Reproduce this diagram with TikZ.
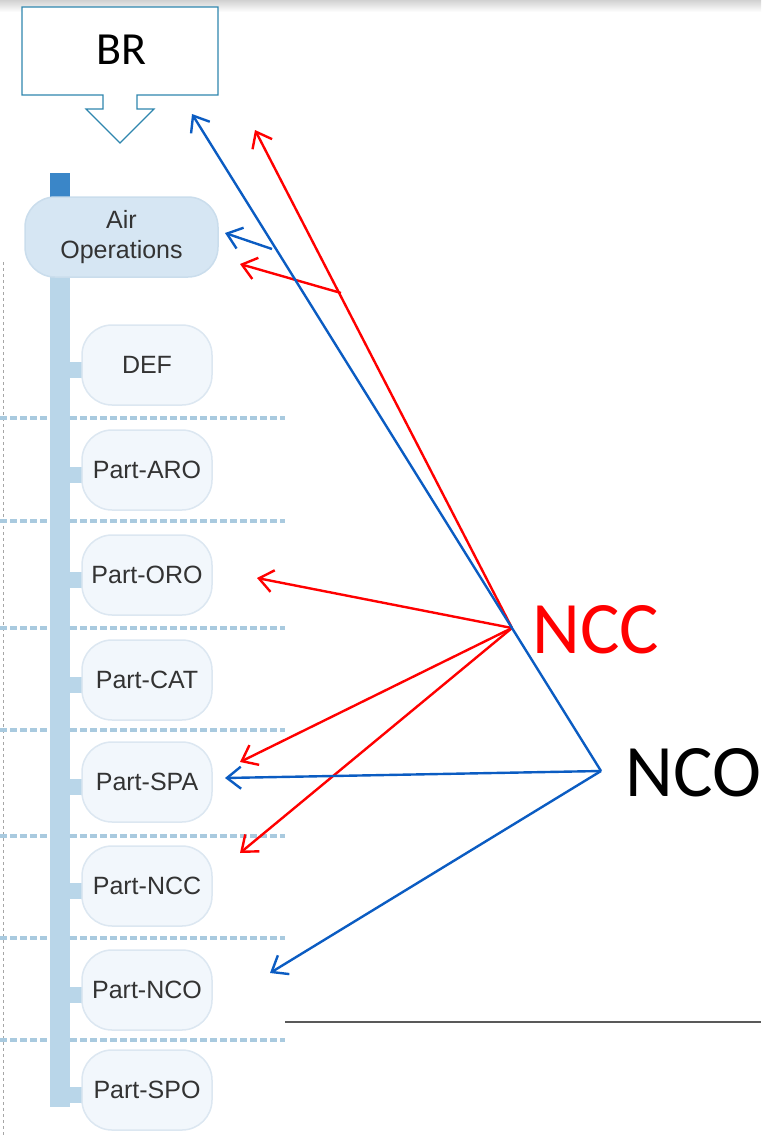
\documentclass[tikz,border=0pt]{standalone}
\usepackage{fontspec}
\setmainfont{Liberation Sans}
\newfontfamily\calibri{Carlito}
\usetikzlibrary{arrows.meta}
\definecolor{barblue}{HTML}{B9D6E9}
\definecolor{topblue}{HTML}{3A86C8}
\definecolor{opsfill}{HTML}{D6E6F3}
\definecolor{opsline}{HTML}{CADDEC}
\definecolor{partfill}{HTML}{F2F7FC}
\definecolor{partline}{HTML}{DCE7F1}
\definecolor{sepblue}{HTML}{A9CADF}
\definecolor{brline}{HTML}{2F86AE}
\definecolor{nccred}{HTML}{FF0000}
\definecolor{ncoblue}{HTML}{0B5CC2}
\definecolor{labelgrey}{HTML}{333333}

\begin{document}
\begin{tikzpicture}[x=1pt,y=-1pt,
	part/.style={draw=partline, line width=1.5pt, fill=partfill, rounded corners=30pt,
		minimum width=130pt, minimum height=80pt, text=labelgrey, font=\fontsize{25}{30}\selectfont},
	redarrow/.style={draw=nccred, line width=2.4pt, -{Straight Barb[length=14pt,width=22pt]}},
	bluearrow/.style={draw=ncoblue, line width=2.4pt, -{Straight Barb[length=14pt,width=22pt]}}]
	\useasboundingbox (0,0) rectangle (761,1135);
	\shade[top color=black!18, bottom color=white] (0,0) rectangle (761,12);

	% BR callout
	\draw[brline, line width=1.2pt, fill=white] (22,7) -- (218,7) -- (218,95) -- (137,95) -- (137,109)
		-- (154,109) -- (120,143) -- (86,109) -- (103,109) -- (103,95) -- (22,95) -- cycle;
	\node[font=\calibri\fontsize{46}{50}\selectfont] (BR) at (121,50) {BR};

	% separators and tree
	\draw[black!35, dashed, line width=0.8pt] (3,262) -- (3,1135);
	\foreach \y in {418,521,628,730,836,938,1040}
		\draw[sepblue, line width=3.5pt, dash pattern=on 7pt off 3pt] (0,\y) -- (285,\y);
	\fill[topblue] (50,173) rectangle (70,197);
	\fill[barblue] (50,277) rectangle (70,1107);
	\foreach \y in {365,470,575,680,782,886,990,1090}
		\fill[barblue] (70,\y-3) rectangle (84,\y+13);

	\node[draw=opsline, line width=1.5pt, fill=opsfill, rounded corners=30pt, minimum width=193pt,
		minimum height=80pt, align=center, text=labelgrey, font=\fontsize{25}{30}\selectfont]
		(OPS) at (121.5,237) {Air\\Operations};%
	\node[part] (DEF) at (147,365) {DEF};%
	\node[part] (ARO) at (147,470) {Part-ARO};%
	\node[part] (ORO) at (147,575) {Part-ORO};%
	\node[part] (CAT) at (147,680) {Part-CAT};%
	\node[part] (SPA) at (147,782) {Part-SPA};%
	\node[part] (PNCC) at (147,886) {Part-NCC};%
	\node[part] (PNCO) at (147,990) {Part-NCO};%
	\node[part] (SPO) at (147,1090) {Part-SPO};%

	% NCC and NCO
	\coordinate (nccpt) at (512,628);
	\coordinate (ncopt) at (601,771);
	\node[anchor=west, text=nccred, font=\calibri\fontsize{74}{80}\selectfont] (NCC) at (529,630) {NCC};
	\node[anchor=west, font=\calibri\fontsize{74}{80}\selectfont] (NCO) at (622,773) {NCO};

	\coordinate (rbr) at (255,130);
	\coordinate (rsplit) at (341,293);
	\coordinate (rops) at (240,264);
	\coordinate (roro) at (257,578);
	\coordinate (rspa) at (240,762);
	\coordinate (rncc) at (240,853);
	\coordinate (bbr) at (192,114);
	\coordinate (bsplit) at (272,249);
	\coordinate (bops) at (225,233);
	\coordinate (bspa) at (225,778);
	\coordinate (bnco) at (270,973);

	\draw[redarrow] (nccpt) -- (rbr);
	\draw[redarrow] (rsplit) -- (rops);
	\draw[redarrow] (nccpt) -- (roro);
	\draw[redarrow] (nccpt) -- (rspa);
	\draw[redarrow] (nccpt) -- (rncc);
	\draw[bluearrow] (ncopt) -- (bbr);
	\draw[bluearrow] (bsplit) -- (bops);
	\draw[bluearrow] (ncopt) -- (bspa);
	\draw[bluearrow] (ncopt) -- (bnco);

	\coordinate (rulel) at (285,1022);
	\coordinate (ruler) at (761,1022);
	\draw[black!65, line width=2pt] (rulel) -- (ruler);
\end{tikzpicture}
\end{document}
